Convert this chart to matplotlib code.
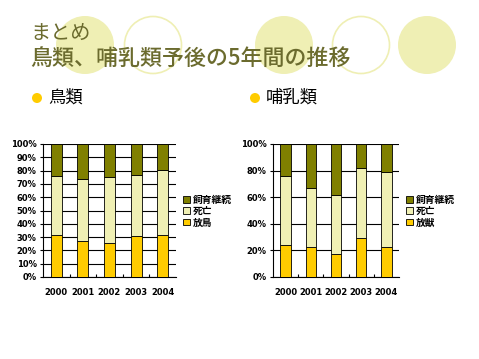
import matplotlib
matplotlib.use("Agg")
import matplotlib.pyplot as plt
from matplotlib.patches import Circle
import numpy as np

plt.rcParams['font.family'] = ['Noto Sans CJK JP', 'DejaVu Sans']

# data (percent)
years = ["2000", "2001", "2002", "2003", "2004"]
bird_release = [31.4, 27.4, 25.9, 30.7, 31.4]
bird_death = [44.2, 46.0, 49.0, 45.7, 48.8]
bird_keep = [24.4, 26.6, 25.1, 23.6, 19.8]
mam_release = [24.1, 22.8, 17.5, 29.3, 22.8]
mam_death = [51.8, 44.1, 44.2, 52.9, 56.1]
mam_keep = [24.1, 33.1, 38.3, 17.8, 21.1]
labels = ["放鳥", "死亡", "飼育継続"]
labels_m = ["放獣", "死亡", "飼育継続"]

c_release = "#FFCC00"
c_death = "#F0F0B4"
c_keep = "#808000"
c_deco = "#EFEFB4"

fig = plt.figure(figsize=(4.79, 3.59), dpi=100)

# decorative circles in the background
bg = fig.add_axes([0, 0, 1, 1])
bg.set_xlim(0, 479)
bg.set_ylim(359, 0)
bg.axis("off")
for cx, filled in [(85, True), (153, False), (284, True), (361, False), (427, True)]:
    if filled:
        bg.add_patch(Circle((cx, 45), 29, facecolor=c_deco, edgecolor="none"))
    else:
        bg.add_patch(Circle((cx, 45), 28.5, facecolor="none", edgecolor=c_deco, lw=1.2))

title_color = "#6B6B2E"
bg.text(30, 33, "まとめ", fontsize=14.5, color=title_color, va="center", ha="left")
bg.text(30, 58, "鳥類、哺乳類予後の5年間の推移", fontsize=15.8, color=title_color,
        va="center", ha="left", fontweight="medium")
bg.add_patch(Circle((37, 98), 5, facecolor="#FFCC00", edgecolor="none"))
bg.text(48, 98, "鳥類", fontsize=12.5, color="black", va="center", ha="left")
bg.add_patch(Circle((255, 98), 5, facecolor="#FFCC00", edgecolor="none"))
bg.text(266, 98, "哺乳類", fontsize=12.5, color="black", va="center", ha="left")


def draw(ax, rel, dea, kee, labs, step, leg_x):
    x = np.arange(len(years))
    rel = np.array(rel)
    dea = np.array(dea)
    kee = np.array(kee)
    w = 0.42
    b1 = ax.bar(x, rel, w, color=c_release, edgecolor="black", lw=0.6, zorder=3)
    b2 = ax.bar(x, dea, w, bottom=rel, color=c_death, edgecolor="black", lw=0.6, zorder=3)
    b3 = ax.bar(x, kee, w, bottom=rel + dea, color=c_keep, edgecolor="black", lw=0.6, zorder=3)
    ax.set_xlim(-0.5, len(years) - 0.5)
    ax.set_ylim(0, 100)
    ticks = np.arange(0, 101, step)
    ax.set_yticks(ticks)
    ax.set_yticklabels([f"{t}%" for t in ticks], fontsize=6, fontweight="bold",
                       family="DejaVu Sans")
    ax.set_xticks(x)
    ax.set_xticklabels(years, fontsize=6, fontweight="bold", family="DejaVu Sans")
    ax.set_xticks(np.arange(0.5, len(years) - 0.5, 1), minor=True)
    ax.tick_params(axis="x", which="major", length=0, pad=8)
    ax.tick_params(axis="x", which="minor", length=2.5, direction="in", width=0.8)
    ax.tick_params(axis="y", length=2.5, width=0.8, pad=2)
    ax.yaxis.grid(True, color="black", lw=0.8, zorder=0)
    ax.set_axisbelow(True)
    for s in ["top", "right"]:
        ax.spines[s].set_visible(False)
    for s in ["left", "bottom"]:
        ax.spines[s].set_linewidth(0.8)
    leg = fig.legend([b3, b2, b1], [labs[2], labs[1], labs[0]],
                     loc="center left", bbox_to_anchor=(leg_x, 1 - 211 / 359),
                     frameon=False, prop={"size": 7, "weight": "bold"},
                     handlelength=0.7, handleheight=0.7, handletextpad=0.3,
                     labelspacing=0.15, borderpad=0, borderaxespad=0)
    return leg


ax1 = fig.add_axes([43 / 479, 1 - 277 / 359, 133 / 479, 133 / 359])
draw(ax1, bird_release, bird_death, bird_keep, labels, 10, 183 / 479)
ax2 = fig.add_axes([273 / 479, 1 - 277 / 359, 126 / 479, 133 / 359])
draw(ax2, mam_release, mam_death, mam_keep, labels_m, 20, 406 / 479)

fig.savefig("out.png", dpi=100)
